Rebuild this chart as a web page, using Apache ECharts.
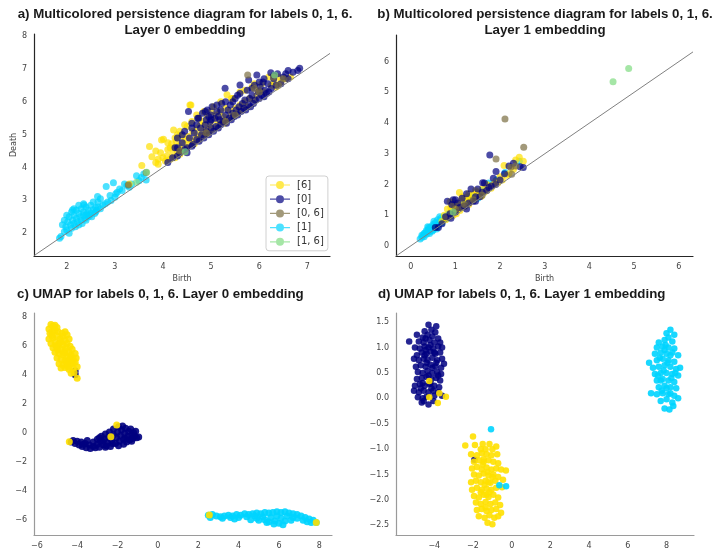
<!DOCTYPE html>
<html><head><meta charset="utf-8">
<script src="https://cdn.jsdelivr.net/npm/echarts@6/dist/echarts.min.js"></script>
<style>html,body{margin:0;padding:0;background:#fff}#c{width:717px;height:554px}</style>
</head><body><div id="c"></div><script>
// ---------- Panel a: persistence diagram, layer 0 (birth, death) ----------
const aCyan = [[1.85,1.85],[1.88,1.9],[1.95,2.05],[1.98,2.2],[2.0,2.1],[2.02,2.35],[2.05,2.0],[2.05,2.5],[2.08,2.25],[2.1,2.15],[2.1,2.65],[2.12,2.4],[2.15,2.3],[2.15,2.55],[2.18,2.2],[2.2,2.45],[2.2,2.7],[2.22,2.35],[2.25,2.6],[2.25,2.25],[2.28,2.5],[2.3,2.4],[2.3,2.75],[2.32,2.3],[2.35,2.55],[2.35,2.65],[2.38,2.45],[2.4,2.8],[2.4,2.4],[2.42,2.6],[2.45,2.5],[2.45,2.7],[2.48,2.55],[2.5,2.85],[2.5,2.62],[2.52,2.5],[2.55,2.72],[2.58,2.6],[2.6,2.78],[2.6,2.65],[2.62,2.7],[2.65,2.8],[2.7,2.75],[2.7,3.05],[2.75,2.85],[2.8,2.9],[2.82,3.42],[2.85,2.95],[2.9,3.15],[2.92,3.0],[2.97,3.54],[3.0,3.1],[3.02,3.2],[3.05,3.25],[3.1,3.35],[3.15,3.3],[3.2,3.5],[3.25,3.45],[3.3,3.4],[3.35,3.5],[3.45,3.75],[3.5,3.6],[3.55,3.7],[3.65,3.62],[3.6,3.8],[2.0,2.55],[2.25,2.85],[2.35,2.9],[1.95,2.4],[2.15,2.75],[2.55,2.95],[2.4,2.55],[2.65,2.95],[2.64,3.12],[2.36,2.86],[1.91,2.26],[2.12,2.71]];
const aYellow = [[3.3,3.5],[3.56,4.06],[3.72,4.64],[3.77,4.33],[3.85,4.15],[3.9,4.25],[3.95,4.45],[4.01,4.86],[4.05,4.2],[4.08,4.35],[4.1,4.55],[4.15,4.25],[4.18,4.72],[4.2,4.4],[4.22,4.6],[4.25,4.3],[4.28,4.8],[4.3,4.5],[4.32,4.65],[4.35,4.4],[4.38,4.95],[4.4,4.55],[4.42,4.75],[4.45,4.48],[4.48,4.85],[4.5,4.6],[4.52,4.95],[4.55,4.7],[4.58,5.9],[4.6,4.8],[4.62,5.1],[4.65,4.72],[4.68,4.9],[4.7,5.2],[4.72,5.0],[4.75,4.85],[4.78,5.3],[4.8,4.95],[4.82,5.1],[4.85,5.4],[4.88,5.0],[4.9,5.2],[4.92,5.55],[4.95,5.05],[4.98,5.3],[5.0,5.15],[5.05,5.45],[5.08,5.2],[5.1,5.6],[5.15,5.3],[5.18,5.7],[5.2,5.4],[5.25,5.55],[5.28,5.35],[5.3,5.8],[5.35,5.5],[5.4,5.7],[5.42,6.1],[5.45,5.55],[5.5,5.8],[5.55,5.65],[5.6,5.9],[5.65,5.75],[5.7,6.0],[5.75,5.85],[5.8,6.1],[5.85,6.45],[5.9,6.05],[5.95,6.2],[6.0,6.35],[6.05,6.55],[6.1,6.3],[6.2,6.75],[6.25,6.5],[6.3,6.6],[6.35,6.45],[6.4,6.75],[6.45,6.6],[6.55,6.7],[6.65,6.75],[4.3,5.0],[4.5,5.25],[4.75,5.5],[5.0,5.7],[5.2,6.0],[4.56,5.9],[5.33,6.21],[4.22,5.14],[3.97,4.84],[4.1,4.75],[4.35,5.1],[4.45,5.3],[4.6,5.4],[4.7,5.6],[4.85,5.7],[5.05,5.85],[3.85,4.5],[3.9,4.1],[4.0,4.3],[4.15,4.6],[5.45,6.1],[5.6,6.3],[5.7,6.35],[5.9,6.55],[4.25,4.9]];
const aNavy = [[4.1,4.15],[4.2,4.3],[4.25,4.6],[4.3,4.9],[4.35,4.45],[4.4,4.75],[4.45,5.1],[4.5,4.6],[4.53,5.7],[4.55,4.9],[4.6,5.35],[4.62,4.7],[4.65,5.05],[4.7,4.85],[4.72,5.5],[4.75,4.8],[4.78,5.2],[4.8,5.0],[4.82,5.65],[4.85,4.9],[4.88,5.3],[4.9,5.1],[4.92,5.75],[4.95,5.0],[4.98,5.4],[5.0,5.2],[5.02,5.85],[5.05,5.1],[5.08,5.5],[5.1,5.25],[5.12,5.7],[5.15,5.2],[5.18,5.45],[5.2,5.3],[5.22,5.95],[5.25,5.4],[5.29,6.41],[5.3,5.6],[5.32,5.35],[5.35,5.75],[5.38,5.5],[5.4,5.9],[5.42,5.45],[5.45,5.65],[5.48,5.55],[5.5,6.1],[5.52,5.75],[5.55,5.6],[5.58,5.85],[5.6,6.25],[5.62,5.7],[5.65,5.95],[5.68,5.8],[5.7,6.05],[5.72,5.75],[5.75,6.35],[5.78,5.9],[5.8,6.1],[5.82,5.85],[5.85,6.2],[5.88,5.95],[5.9,6.5],[5.92,6.05],[5.95,6.81],[5.98,6.3],[6.0,6.1],[6.02,6.45],[6.05,6.2],[6.08,6.6],[6.1,6.15],[6.12,6.35],[6.15,6.25],[6.18,6.55],[6.2,6.3],[6.24,6.88],[6.25,6.4],[6.3,6.7],[6.35,6.5],[6.38,6.85],[6.45,6.55],[6.5,6.75],[6.6,6.7],[6.7,6.9],[6.84,7.02],[6.8,6.95],[6.55,6.85],[4.3,4.35],[4.45,4.55],[4.6,4.65],[5.0,5.6],[5.3,6.0],[5.15,5.55],[4.9,5.45],[4.74,5.5],[4.88,5.7],[5.12,5.9],[5.6,6.51],[5.78,6.66],[4.4,5.0],[4.6,5.2],[4.3,4.6],[4.5,4.45],[5.0,5.45],[5.2,5.75],[5.45,6.0],[5.55,6.2],[5.85,6.4],[6.0,6.6],[6.1,6.7],[4.95,5.55],[4.7,5.3],[6.3,6.8],[6.6,6.95]];
const aOlive = [[3.28,3.47],[3.65,3.85],[4.35,4.5],[4.9,5.05],[5.3,5.4],[5.76,6.81],[5.9,6.4],[6.0,6.3],[6.3,6.75],[6.4,6.5],[6.5,6.7],[5.5,5.6]];
const aGreen = [[3.66,3.86],[4.46,4.48],[6.32,6.81],[3.45,3.55]];
// ---------- Panel b: persistence diagram, layer 1 ----------
const bCyan = [[0.21,0.22],[0.25,0.28],[0.28,0.35],[0.3,0.3],[0.32,0.42],[0.35,0.38],[0.38,0.5],[0.4,0.45],[0.42,0.55],[0.45,0.5],[0.45,0.62],[0.48,0.58],[0.5,0.52],[0.5,0.7],[0.52,0.62],[0.55,0.75],[0.55,0.6],[0.58,0.68],[0.6,0.85],[0.62,0.7],[0.65,0.78],[0.68,0.9],[0.7,0.75],[0.72,0.85],[0.75,0.95],[0.8,0.88],[0.85,1.05],[0.35,0.5],[0.4,0.6],[0.3,0.4],[0.6,0.62],[0.48,0.48],[0.9,1.0],[1.05,1.25],[1.2,1.4],[1.35,1.6],[1.6,1.8],[1.75,2.05],[1.92,2.15],[2.11,2.39],[2.43,2.76],[1.5,1.55],[0.95,1.15],[0.38,0.62],[0.52,0.8],[0.65,0.95],[0.42,0.4],[0.58,0.55],[0.25,0.35]];
const bYellow = [[0.7,0.8],[0.75,1.0],[0.8,0.9],[0.82,1.2],[0.85,0.95],[0.88,1.44],[0.9,1.1],[0.95,1.0],[0.98,1.3],[1.0,1.15],[1.02,1.05],[1.05,1.35],[1.08,1.2],[1.09,1.74],[1.1,1.15],[1.12,1.45],[1.15,1.25],[1.18,1.3],[1.2,1.55],[1.22,1.28],[1.25,1.4],[1.28,1.6],[1.3,1.35],[1.32,1.5],[1.35,1.45],[1.38,1.65],[1.4,1.5],[1.45,1.55],[1.48,1.75],[1.5,1.6],[1.55,1.7],[1.58,1.62],[1.6,1.85],[1.65,1.75],[1.7,1.8],[1.75,1.95],[1.8,1.88],[1.85,2.0],[1.9,2.1],[1.95,2.05],[2.0,2.25],[2.05,2.15],[2.09,2.62],[2.15,2.3],[2.2,2.35],[2.3,2.5],[2.35,2.8],[2.43,2.89],[2.52,2.76],[0.95,1.4],[1.15,1.6],[0.78,0.85],[1.3,1.7],[1.45,1.8],[0.9,1.25],[1.7,2.0],[1.0,1.3]];
const bNavy = [[0.55,0.6],[0.62,0.6],[0.7,0.72],[0.78,0.95],[0.82,1.45],[0.88,1.05],[0.92,1.35],[0.95,1.5],[1.0,1.1],[1.05,1.4],[1.1,1.25],[1.15,1.55],[1.2,1.3],[1.25,1.2],[1.3,1.4],[1.35,1.85],[1.4,1.45],[1.45,1.6],[1.5,1.85],[1.55,1.6],[1.6,1.75],[1.65,2.05],[1.7,1.8],[1.75,1.9],[1.77,2.96],[1.8,1.95],[1.85,2.2],[1.9,2.0],[1.91,2.42],[2.0,2.15],[2.1,2.35],[2.2,2.6],[2.3,2.69],[2.45,2.58],[2.52,2.55],[1.61,2.06],[1.0,1.5],[1.25,1.7],[0.9,0.9],[1.45,1.45]];
const bOlive = [[2.11,4.13],[2.53,3.21],[1.91,2.83],[2.26,2.33],[2.24,2.56],[1.2,1.35],[1.4,1.5],[1.0,1.2],[1.6,1.65],[2.35,2.6]];
const bGreen = [[4.53,5.35],[4.88,5.78],[0.95,1.1]];
// ---------- Panel c: UMAP layer 0 ----------
const cYellow = [[-5.3,7.5],[-5.2,7.4],[-5.1,7.45],[-5.0,7.3],[-5.4,7.2],[-5.35,6.9],[-5.25,7.0],[-5.1,7.1],[-4.95,7.0],[-4.6,7.0],[-4.5,6.8],[-4.7,6.7],[-5.4,6.5],[-5.2,6.6],[-5.0,6.7],[-4.85,6.5],[-4.6,6.4],[-4.4,6.5],[-5.3,6.2],[-5.1,6.3],[-4.9,6.2],[-4.7,6.1],[-4.5,6.2],[-4.35,6.0],[-5.2,5.9],[-5.0,5.95],[-4.8,5.8],[-4.6,5.7],[-4.4,5.6],[-4.25,5.8],[-5.1,5.6],[-4.9,5.5],[-4.7,5.4],[-4.5,5.3],[-4.3,5.4],[-4.1,5.5],[-5.0,5.2],[-4.8,5.1],[-4.6,5.0],[-4.4,5.05],[-4.2,5.15],[-4.05,5.2],[-4.9,4.8],[-4.7,4.7],[-4.5,4.75],[-4.3,4.8],[-4.1,4.9],[-4.8,4.5],[-4.6,4.55],[-4.4,4.4],[-4.2,4.5],[-4.0,4.6],[-4.3,4.15],[-4.15,4.2],[-4.0,3.8],[-4.45,4.6],[-5.25,6.75],[-4.75,6.9],[-4.55,5.9],[-4.95,5.75],[-4.65,5.55],[-4.35,5.25],[-5.05,6.05],[-4.8,6.3],[-4.2,4.9],[-4.5,4.95],[-4.39,-0.58],[-2.33,-0.23],[-2.04,0.57],[2.55,-5.63],[7.85,-6.14]];
const cNavy = [[-4.1,4.3],[-4.1,4.05],[-4.12,4.15],[-4.3,-0.6],[-4.2,-0.5],[-4.1,-0.7],[-4.0,-0.55],[-3.9,-0.8],[-3.8,-0.6],[-3.75,-0.9],[-3.6,-0.7],[-3.55,-1.0],[-3.4,-0.8],[-3.35,-1.05],[-3.2,-0.9],[-3.2,-0.6],[-3.1,-1.0],[-3.0,-0.75],[-3.0,-0.4],[-2.9,-0.95],[-2.85,-0.55],[-2.8,-0.2],[-2.7,-0.8],[-2.65,-0.4],[-2.6,-0.05],[-2.5,-0.65],[-2.45,-0.25],[-2.4,0.1],[-2.35,-0.9],[-2.3,-0.5],[-2.2,-0.1],[-2.2,0.3],[-2.1,-0.7],[-2.05,-0.3],[-2.0,0.1],[-1.95,0.45],[-1.9,-0.55],[-1.85,-0.15],[-1.8,0.25],[-1.75,0.5],[-1.7,-0.4],[-1.65,0.0],[-1.6,0.35],[-1.55,-0.6],[-1.5,-0.2],[-1.45,0.15],[-1.4,-0.45],[-1.35,0.3],[-1.3,-0.1],[-1.25,-0.35],[-1.2,0.05],[-1.15,-0.2],[-1.05,-0.3],[-0.95,-0.25],[-1.1,0.15],[-2.55,-0.85],[-2.75,-0.55],[-1.7,-0.75],[-3.5,-0.5],[-3.7,-0.75],[-2.25,-0.7],[-1.95,-0.85],[-2.9,-0.3],[-1.6,-0.35],[-1.3,-0.55],[-2.6,-0.95]];
const cCyan = [[2.5,-5.65],[2.7,-5.6],[2.9,-5.7],[3.1,-5.75],[3.3,-5.7],[3.5,-5.65],[3.7,-5.7],[3.9,-5.6],[4.1,-5.65],[4.3,-5.55],[4.5,-5.6],[4.7,-5.55],[4.9,-5.5],[5.1,-5.55],[5.3,-5.45],[5.5,-5.5],[5.7,-5.45],[5.9,-5.4],[6.1,-5.45],[6.3,-5.4],[6.5,-5.5],[6.7,-5.55],[6.9,-5.6],[7.1,-5.7],[7.3,-5.8],[7.5,-5.9],[7.7,-6.0],[7.85,-6.15],[3.2,-5.85],[3.6,-5.8],[4.0,-5.8],[4.4,-5.75],[4.8,-5.7],[4.9,-5.85],[5.0,-6.0],[5.2,-5.75],[5.3,-5.95],[5.5,-6.1],[5.6,-5.8],[5.8,-6.05],[5.9,-5.7],[6.0,-6.2],[6.1,-5.85],[6.3,-6.05],[6.4,-5.7],[6.6,-6.0],[6.7,-5.8],[6.9,-5.85],[7.2,-6.0],[7.4,-6.1],[7.6,-6.15],[4.6,-5.95],[5.4,-6.15],[6.2,-6.3],[3.8,-5.9],[2.6,-5.8],[5.75,-6.25]];
// ---------- Panel d: UMAP layer 1 ----------
const dNavy = [[-4.3,1.45],[-3.9,1.42],[-4.5,1.32],[-4.15,1.35],[-3.95,1.3],[-4.9,1.25],[-4.6,1.2],[-4.35,1.25],[-4.1,1.22],[-3.8,1.18],[-5.3,1.12],[-4.8,1.12],[-4.55,1.1],[-4.25,1.15],[-4.0,1.1],[-3.7,1.1],[-5.0,1.0],[-4.75,0.98],[-4.5,1.02],[-4.3,1.0],[-4.05,0.98],[-3.8,1.02],[-3.6,1.0],[-4.9,0.85],[-4.65,0.9],[-4.4,0.88],[-4.2,0.92],[-3.95,0.88],[-3.7,0.9],[-5.05,0.78],[-4.8,0.75],[-4.55,0.78],[-4.35,0.76],[-4.1,0.8],[-3.85,0.75],[-3.6,0.78],[-4.95,0.62],[-4.7,0.65],[-4.45,0.62],[-4.2,0.66],[-3.95,0.63],[-3.65,0.6],[-3.5,0.68],[-4.85,0.52],[-4.6,0.5],[-4.35,0.54],[-4.1,0.5],[-3.85,0.52],[-3.65,0.48],[-4.9,0.38],[-4.65,0.4],[-4.4,0.42],[-4.15,0.38],[-3.9,0.4],[-3.7,0.35],[-5.0,0.25],[-4.75,0.28],[-4.5,0.25],[-4.25,0.28],[-4.0,0.25],[-3.75,0.22],[-5.05,0.15],[-4.8,0.12],[-4.55,0.15],[-4.3,0.12],[-4.05,0.15],[-3.8,0.12],[-4.85,0.02],[-4.6,0.0],[-4.4,0.03],[-4.0,0.05],[-3.6,0.05],[-4.65,-0.08],[-4.3,-0.12],[-4.05,-0.05],[-4.55,-0.05],[-4.45,1.18],[-4.2,1.05],[-4.4,0.7],[-4.1,0.6],[-4.3,0.45],[-4.5,0.85],[-3.9,0.7],[-4.2,0.3],[-4.6,0.3],[-4.0,0.9],[-4.45,0.95],[-3.8,0.45],[-4.7,0.2],[-4.15,0.2],[-1.93,-1.21]];
const dYellow = [[-2.0,-0.75],[-2.4,-0.93],[-1.9,-0.92],[-1.5,-0.9],[-1.15,-0.9],[-1.6,-1.0],[-1.35,-1.0],[-1.0,-1.0],[-0.8,-0.95],[-2.1,-1.1],[-1.8,-1.12],[-1.55,-1.08],[-1.3,-1.1],[-1.05,-1.12],[-0.75,-1.1],[-1.95,-1.25],[-1.7,-1.22],[-1.45,-1.25],[-1.2,-1.22],[-0.95,-1.25],[-0.7,-1.28],[-2.05,-1.38],[-1.8,-1.35],[-1.55,-1.4],[-1.3,-1.36],[-1.05,-1.4],[-0.8,-1.38],[-0.55,-1.4],[-1.95,-1.5],[-1.7,-1.52],[-1.45,-1.48],[-1.2,-1.52],[-0.95,-1.5],[-0.7,-1.55],[-0.3,-1.42],[-2.1,-1.65],[-1.85,-1.62],[-1.6,-1.65],[-1.35,-1.62],[-1.1,-1.66],[-0.85,-1.62],[-0.45,-1.6],[-2.05,-1.8],[-1.8,-1.76],[-1.55,-1.8],[-1.3,-1.78],[-1.05,-1.8],[-0.8,-1.76],[-0.5,-1.75],[-1.95,-1.92],[-1.7,-1.95],[-1.45,-1.9],[-1.2,-1.94],[-0.95,-1.9],[-0.7,-1.95],[-1.85,-2.05],[-1.6,-2.08],[-1.35,-2.04],[-1.1,-2.08],[-0.85,-2.05],[-0.6,-2.1],[-1.8,-2.2],[-1.55,-2.18],[-1.3,-2.22],[-1.05,-2.2],[-0.8,-2.18],[-0.55,-2.25],[-1.7,-2.32],[-1.4,-2.35],[-1.15,-2.3],[-0.9,-2.35],[-0.7,-2.32],[-1.25,-2.45],[-1.0,-2.48],[-1.5,-1.3],[-1.25,-1.45],[-1.4,-1.7],[-1.15,-1.85],[-1.35,-2.15],[-1.0,-1.55],[-1.6,-1.85],[-1.45,-1.2],[-1.3,-1.9],[-1.2,-1.65],[-4.26,0.34],[-4.26,0.02],[-3.74,0.10],[-3.82,-0.09],[-3.40,0.03]];
const dCyan = [[8.2,1.35],[8.0,1.28],[8.4,1.25],[7.6,1.1],[7.9,1.15],[8.3,1.12],[7.5,1.0],[7.8,1.02],[8.1,1.0],[8.4,0.98],[8.6,0.85],[7.4,0.88],[7.7,0.9],[8.0,0.88],[8.3,0.9],[7.1,0.7],[7.5,0.75],[7.8,0.78],[8.1,0.75],[8.4,0.72],[8.7,0.6],[7.3,0.6],[7.6,0.62],[7.9,0.65],[8.2,0.62],[8.5,0.58],[7.4,0.48],[7.7,0.5],[8.0,0.5],[8.3,0.48],[8.6,0.45],[7.5,0.35],[7.8,0.38],[8.1,0.35],[8.4,0.32],[7.2,0.1],[7.6,0.22],[7.9,0.25],[8.2,0.22],[8.5,0.2],[7.5,0.08],[7.8,0.1],[8.1,0.08],[8.4,0.05],[8.6,0.0],[7.7,-0.05],[8.0,-0.02],[8.3,-0.08],[7.9,-0.2],[8.15,-0.22],[8.35,-0.15],[7.95,1.05],[8.2,0.85],[7.65,0.8],[8.05,0.7],[7.85,0.55],[8.25,0.4],[7.7,0.35],[8.0,0.2],[8.2,0.1],[7.9,0.95],[8.45,0.5],[7.55,0.45],[8.1,1.2],[7.75,0.15],[-1.07,-0.61],[-0.64,-1.71],[-0.29,-1.73]];

// ---------- axis ranges and tick labels ----------
const aXRange = [1.32, 7.47], aYRange = [1.31, 8.06];
const bXRange = [-0.33, 6.32], bYRange = [-0.33, 6.87];
const cXRange = [-6.14, 8.63], cYRange = [-7.01, 8.30];
const dXRange = [-5.98, 9.42], dYRange = [-2.69, 1.68];
const aXTicks = [2,3,4,5,6,7], aYTicks = [2,3,4,5,6,7,8];
const bXTicks = [0,1,2,3,4,5,6], bYTicks = [0,1,2,3,4,5,6];
const cXTicks = [-6,-4,-2,0,2,4,6,8], cYTicks = [-6,-4,-2,0,2,4,6,8];
const dXTicks = [-4,-2,0,2,4,6,8], dYTicks = [-2.5,-2.0,-1.5,-1.0,-0.5,0.0,0.5,1.0,1.5];
const legendNames = ['[6]','[0]','[0, 6]','[1]','[1, 6]'];
const titles = ['a) Multicolored persistence diagram for labels 0, 1, 6.\nLayer 0 embedding',
                'b) Multicolored persistence diagram for labels 0, 1, 6.\nLayer 1 embedding',
                'c) UMAP for labels 0, 1, 6. Layer 0 embedding',
                'd) UMAP for labels 0, 1, 6. Layer 1 embedding'];

const YEL = '#FFE000', NAV = '#000080', CYA = '#00D4FF', OLI = '#7a6d42', GRN = '#7fdc80';
const FONT = 'DejaVu Sans';
const minus = s => String(s).replace('-', '\u2212');
const fmtInt = v => minus(v);
const fmt1 = v => minus(Number(v).toFixed(1));

function axis(gi, range, ticks, lineColor, fmt, name, nameGap) {
  return {
    type: 'value', gridIndex: gi, min: range[0], max: range[1],
    axisLine: { show: true, onZero: false, lineStyle: { color: lineColor, width: 1.2 } },
    axisTick: { show: false }, splitLine: { show: false },
    axisLabel: { customValues: ticks, formatter: fmt, fontSize: 8, color: '#444', margin: 7, fontFamily: FONT },
    name: name || '', nameLocation: 'middle', nameGap: nameGap || 20,
    nameTextStyle: { fontSize: 8, color: '#444', fontFamily: FONT }
  };
}

const grids = [
  { left: 34, top: 34, width: 296, height: 222 },
  { left: 396, top: 35, width: 297, height: 221 },
  { left: 34, top: 313, width: 298, height: 222 },
  { left: 396, top: 313, width: 298, height: 222 }
];

function sc(name, data, gi, color, opacity, size) {
  return { type: 'scatter', name, data, xAxisIndex: gi, yAxisIndex: gi, symbolSize: size,
    itemStyle: { color, opacity }, emphasis: { disabled: true }, silent: true };
}
function diag(gi, range) {
  return { type: 'line', data: [[range[0], range[0]], [range[1], range[1]]], xAxisIndex: gi, yAxisIndex: gi,
    symbol: 'none', lineStyle: { color: '#808080', width: 1 }, silent: true, z: 3 };
}

const legendIcon = 'path://M0,3.4 L20,3.4 L20,4.6 L0,4.6 Z M10,0 A4,4 0 1 1 10,8 A4,4 0 1 1 10,0 Z';
const TFONT = 'bold 13.3px "Liberation Sans", Arial, sans-serif';

const option = {
  animation: false,
  backgroundColor: '#fff',
  grid: grids,
  xAxis: [
    axis(0, aXRange, aXTicks, '#262626', fmtInt, 'Birth', 19),
    axis(1, bXRange, bXTicks, '#262626', fmtInt, 'Birth', 19),
    axis(2, cXRange, cXTicks, '#9a9a9a', fmtInt),
    axis(3, dXRange, dXTicks, '#9a9a9a', fmtInt)
  ],
  yAxis: [
    axis(0, aYRange, aYTicks, '#262626', fmtInt, 'Death', 16),
    axis(1, bYRange, bYTicks, '#262626', fmtInt),
    axis(2, cYRange, cYTicks, '#9a9a9a', fmtInt),
    axis(3, dYRange, dYTicks, '#9a9a9a', fmt1)
  ],
  legend: {
    data: legendNames, orient: 'vertical', left: 266, top: 176,
    icon: legendIcon, itemWidth: 20, itemHeight: 8, itemGap: 4.2,
    padding: [4, 4, 4, 4], borderColor: '#d0d0d0', borderWidth: 1, borderRadius: 3,
    backgroundColor: '#fff', selectedMode: false,
    textStyle: { fontSize: 10, color: '#333', fontFamily: FONT, padding: [0, 0, 0, 2] }
  },
  graphic: [
    { type: 'text', x: 185, y: 6, style: { text: titles[0], font: TFONT, fill: '#1a1a1a', textAlign: 'center', lineHeight: 16 } },
    { type: 'text', x: 545, y: 6, style: { text: titles[1], font: TFONT, fill: '#1a1a1a', textAlign: 'center', lineHeight: 16 } },
    { type: 'text', x: 17, y: 288, style: { text: titles[2], font: TFONT, fill: '#1a1a1a', textAlign: 'left' } },
    { type: 'text', x: 378, y: 288, style: { text: titles[3], font: TFONT, fill: '#1a1a1a', textAlign: 'left' } }
  ],
  series: [
    sc('[1]', aCyan, 0, CYA, 0.7, 7),
    sc('[6]', aYellow, 0, YEL, 0.7, 7),
    sc('[0]', aNavy, 0, NAV, 0.7, 7),
    sc('[0, 6]', aOlive, 0, OLI, 0.7, 7),
    sc('[1, 6]', aGreen, 0, GRN, 0.7, 7),
    diag(0, aXRange),
    sc('b1', bCyan, 1, CYA, 0.7, 7),
    sc('b6', bYellow, 1, YEL, 0.7, 7),
    sc('b0', bNavy, 1, NAV, 0.7, 7),
    sc('b06', bOlive, 1, OLI, 0.7, 7),
    sc('b16', bGreen, 1, GRN, 0.7, 7),
    diag(1, bXRange),
    sc('c0', cNavy, 2, NAV, 0.9, 7),
    sc('c1', cCyan, 2, CYA, 0.9, 7),
    sc('c6', cYellow, 2, YEL, 0.9, 7),
    sc('d0', dNavy, 3, NAV, 0.85, 6.5),
    sc('d6', dYellow, 3, YEL, 0.9, 6.5),
    sc('d1', dCyan, 3, CYA, 0.9, 6.5)
  ]
};
const chart = echarts.init(document.getElementById('c'));
chart.setOption(option);
</script></body></html>
